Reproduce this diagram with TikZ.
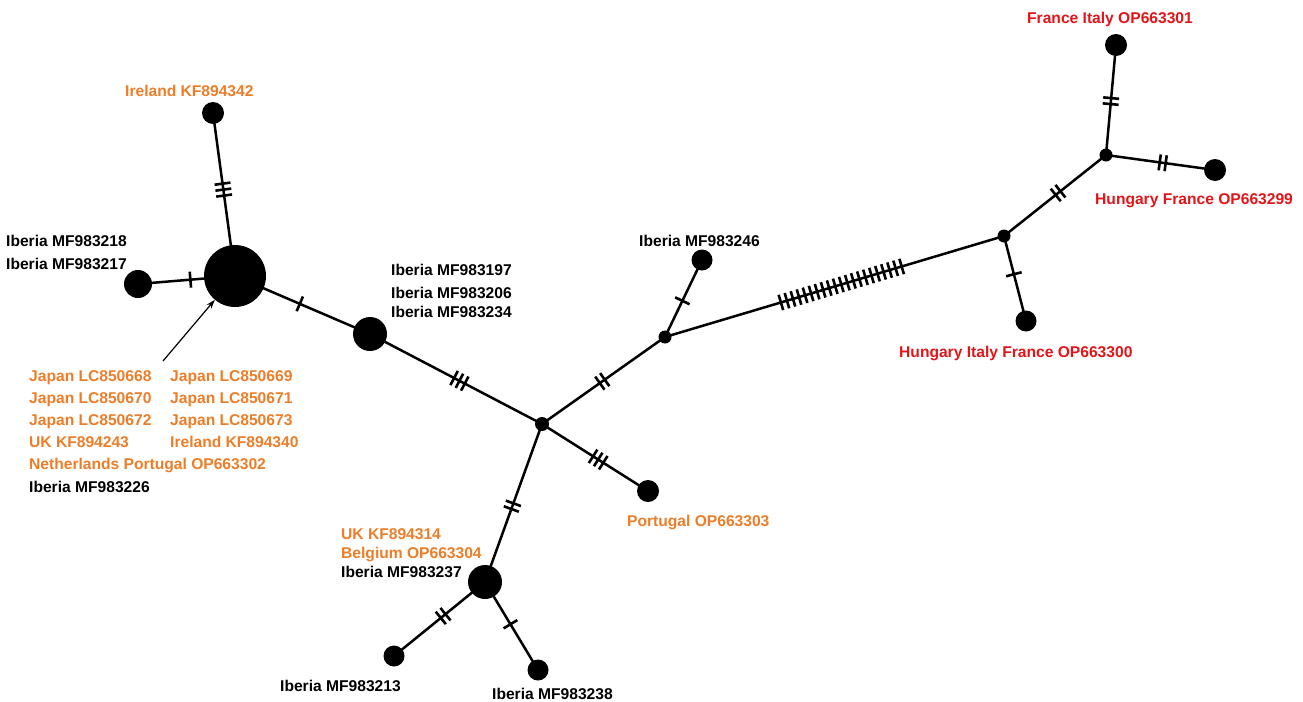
\documentclass[tikz,border=0pt]{standalone}
\usepackage{fontspec}
\setmainfont{Liberation Sans}
\usetikzlibrary{arrows.meta}
\definecolor{orng}{RGB}{237,125,40}
\definecolor{rd}{RGB}{228,20,24}
\newcommand{\tka}{\rule{2.6pt}{16pt}}
\newcommand{\tkb}{\rule{2.6pt}{16pt}\hspace{3.4pt}\rule{2.6pt}{16pt}}
\newcommand{\tkc}{\rule{2.6pt}{16pt}\hspace{3.4pt}\rule{2.6pt}{16pt}\hspace{3.4pt}\rule{2.6pt}{16pt}}
\newcommand{\tkchain}{\rule{2.6pt}{16pt}\foreach \i in {1,...,20}{\hspace{3.7pt}\rule{2.6pt}{16pt}}}
\begin{document}
\begin{tikzpicture}[x=1pt,y=-1pt,
  hap/.style={circle,fill=black,inner sep=0pt,minimum size=#1},
  edge/.style={line width=2.5pt},
  tick/.style={sloped,inner sep=0pt,outer sep=0pt,anchor=center},
  lbl/.style={anchor=base west,inner sep=0pt,font=\fontsize{15.6}{20}\selectfont\bfseries},
]
\useasboundingbox (0,0) rectangle (1303,701);
% haplotype nodes
\node[hap=62] (A) at (235,276) {};
\node[hap=22] (irl) at (213,113) {};
\node[hap=28] (m18) at (138,284) {};
\node[hap=34] (B) at (370,334) {};
\node[hap=14] (C) at (542,424) {};
\node[hap=22] (por) at (648,491) {};
\node[hap=34] (D) at (485,582) {};
\node[hap=21] (m13) at (394,656) {};
\node[hap=21] (m38) at (538,670) {};
\node[hap=13] (E) at (665,337) {};
\node[hap=21] (m46) at (702,260) {};
\node[hap=13] (F) at (1004,236) {};
\node[hap=21] (o00) at (1026,321) {};
\node[hap=13] (G) at (1106,155) {};
\node[hap=22] (o01) at (1116,45) {};
\node[hap=22] (o99) at (1215,170) {};
% edges with mutation ticks
\draw[edge] (A.center) -- (irl.center) node[tick,pos=0.53]{\tkc};
\draw[edge] (A.center) -- (m18.center) node[tick,pos=0.46]{\tka};
\draw[edge] (A.center) -- (B.center) node[tick,pos=0.48]{\tka};
\draw[edge] (B.center) -- (C.center) node[tick,pos=0.52]{\tkc};
\draw[edge] (C.center) -- (por.center) node[tick,pos=0.53]{\tkc};
\draw[edge] (C.center) -- (D.center) node[tick,pos=0.52]{\tkb};
\draw[edge] (D.center) -- (m13.center) node[tick,pos=0.46]{\tkb};
\draw[edge] (D.center) -- (m38.center) node[tick,pos=0.48]{\tka};
\draw[edge] (C.center) -- (E.center) node[tick,pos=0.49]{\tkb};
\draw[edge] (E.center) -- (m46.center) node[tick,pos=0.47]{\tka};
\draw[edge] (E.center) -- (F.center) node[tick,pos=0.52]{\tkchain};
\draw[edge] (F.center) -- (o00.center) node[tick,pos=0.45]{\tka};
\draw[edge] (F.center) -- (G.center) node[tick,pos=0.53]{\tkb};
\draw[edge] (G.center) -- (o01.center) node[tick,pos=0.49]{\tkb};
\draw[edge] (G.center) -- (o99.center) node[tick,pos=0.52]{\tkb};
% arrow
\coordinate (arr) at (163,361);
\draw[line width=1.2pt,-{Stealth[length=9pt,width=6pt]}] (arr) -- (A);
% labels
\node[lbl,text=orng] (t1) at (125,96) {Ireland KF894342};
\node[lbl] (t2) at (6,246) {Iberia MF983218};
\node[lbl] (t3) at (6,269) {Iberia MF983217};
\node[lbl] (t4) at (391,275) {Iberia MF983197};
\node[lbl] (t5) at (391,298) {Iberia MF983206};
\node[lbl] (t6) at (391,317) {Iberia MF983234};
\node[lbl,text=orng] (j1) at (29,381) {Japan LC850668};
\node[lbl,text=orng] (j2) at (170,381) {Japan LC850669};
\node[lbl,text=orng] (j3) at (29,403) {Japan LC850670};
\node[lbl,text=orng] (j4) at (170,403) {Japan LC850671};
\node[lbl,text=orng] (j5) at (29,425) {Japan LC850672};
\node[lbl,text=orng] (j6) at (170,425) {Japan LC850673};
\node[lbl,text=orng] (j7) at (29,447) {UK KF894243};
\node[lbl,text=orng] (j8) at (170,447) {Ireland KF894340};
\node[lbl,text=orng] (j9) at (29,469) {Netherlands Portugal OP663302};
\node[lbl] (j10) at (29,492) {Iberia MF983226};
\node[lbl] (t7) at (639,246) {Iberia MF983246};
\node[lbl,text=orng] (t8) at (627,526) {Portugal OP663303};
\node[lbl,text=orng] (t9) at (341,539) {UK KF894314};
\node[lbl,text=orng] (t10) at (341,558) {Belgium OP663304};
\node[lbl] (t11) at (341,577) {Iberia MF983237};
\node[lbl] (t12) at (280,691) {Iberia MF983213};
\node[lbl] (t13) at (492,699) {Iberia MF983238};
\node[lbl,text=rd] (r1) at (1027,24) {France Italy OP663301};
\node[lbl,text=rd] (r2) at (1095,204) {Hungary France OP663299};
\node[lbl,text=rd] (r3) at (899,357) {Hungary Italy France OP663300};
\end{tikzpicture}
\end{document}
